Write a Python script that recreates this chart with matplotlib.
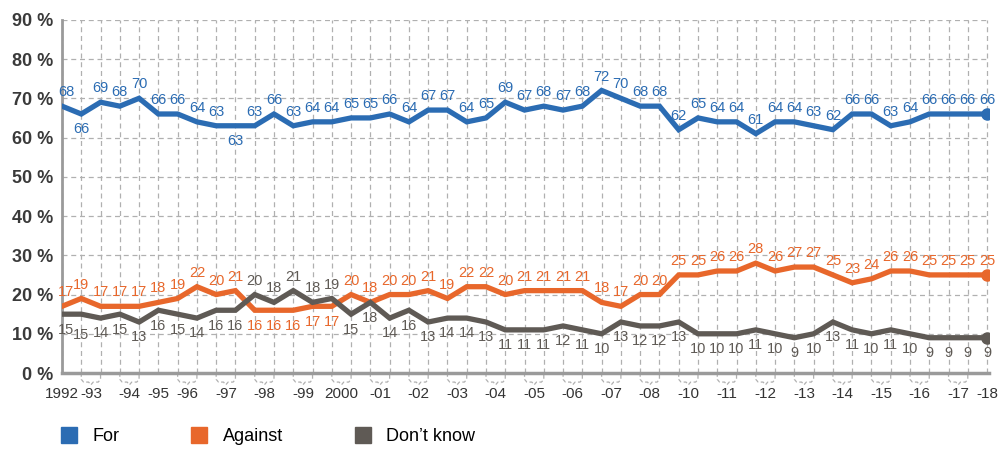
import matplotlib.pyplot as plt
from matplotlib.lines import Line2D
import numpy as np

plt.rcParams['font.family'] = ['Liberation Sans', 'DejaVu Sans']

# survey values, 49 polls 1992-2018
for_vals = [68, 66, 69, 68, 70, 66, 66, 64, 63, 63, 63, 66, 63, 64, 64, 65, 65, 66, 64, 67, 67, 64, 65,
            69, 67, 68, 67, 68, 72, 70, 68, 68, 62, 65, 64, 64, 61, 64, 64, 63, 62, 66, 66, 63, 64, 66,
            66, 66, 66]
against_vals = [17, 19, 17, 17, 17, 18, 19, 22, 20, 21, 16, 16, 16, 17, 17, 20, 18, 20, 20, 21, 19, 22, 22,
                20, 21, 21, 21, 21, 18, 17, 20, 20, 25, 25, 26, 26, 28, 26, 27, 27, 25, 23, 24, 26, 26, 25,
                25, 25, 25]
dontknow_vals = [15, 15, 14, 15, 13, 16, 15, 14, 16, 16, 20, 18, 21, 18, 19, 15, 18, 14, 16, 13, 14, 14, 13,
                 11, 11, 11, 12, 11, 10, 13, 12, 12, 13, 10, 10, 10, 11, 10, 9, 10, 13, 11, 10, 11, 10, 9,
                 9, 9, 9]

# year labels: (first poll index, last poll index, label)
year_groups = [(0, 0, '1992'), (1, 2, '-93'), (3, 4, '-94'), (5, 5, '-95'), (6, 7, '-96'), (8, 9, '-97'),
               (10, 11, '-98'), (12, 13, '-99'), (14, 15, '2000'), (16, 17, '-01'), (18, 19, '-02'),
               (20, 21, '-03'), (22, 23, '-04'), (24, 25, '-05'), (26, 27, '-06'), (28, 29, '-07'),
               (30, 31, '-08'), (32, 33, '-10'), (34, 35, '-11'), (36, 37, '-12'), (38, 39, '-13'),
               (40, 41, '-14'), (42, 43, '-15'), (44, 45, '-16'), (46, 47, '-17'), (48, 48, '-18')]

series_names = ['For', 'Against', 'Don\u2019t know']
colors = ['#2b6cb3', '#e8672b', '#5f5a55']

# which labels sit under the line
for_below = [1, 9]
against_below = [10, 11, 12, 13, 14]
dontknow_above = [10, 11, 12, 13, 14]

x = np.arange(len(for_vals))

fig = plt.figure(figsize=(10, 4.5), dpi=100)
ax = fig.add_axes([0.062, 0.171, 0.927, 0.785])

# grid
for xi in x:
    ax.axvline(xi, color='#b0b0b0', lw=0.9, ls=(0, (4, 3)), zorder=0)
for yv in range(10, 100, 10):
    ax.axhline(yv, color='#b0b0b0', lw=0.9, ls=(0, (4, 3)), zorder=0)

# braces under the axis for years with two polls
for a, b, lab in year_groups:
    if b > a:
        m = (a + b) / 2
        bx = [a, a, a + 0.12, m - 0.12, m, m + 0.12, b - 0.12, b, b]
        by = [0, -1.6, -2.3, -2.3, -3.0, -2.3, -2.3, -1.6, 0]
        ax.plot(bx, by, color='#b0b0b0', lw=0.9, ls=(0, (3, 2)), clip_on=False, zorder=0)

all_vals = [for_vals, against_vals, dontknow_vals]
for k, vals in enumerate(all_vals):
    ax.plot(x, vals, color=colors[k], lw=3.8, solid_joinstyle='miter', zorder=3)
    ax.plot(x[-1], vals[-1], 'o', color=colors[k], ms=8, zorder=4)
    for i, v in enumerate(vals):
        below = ((k == 0 and i in for_below) or (k == 1 and i in against_below)
                 or (k == 2 and i not in dontknow_above))
        dx = 3 if i == 0 else 0
        dy_below = -10 if (k == 2 and i == 1) else -6
        if below:
            ax.annotate(str(v), (i, v), xytext=(dx, dy_below), textcoords='offset points',
                        ha='center', va='top', fontsize=10.5, color=colors[k])
        else:
            ax.annotate(str(v), (i, v), xytext=(dx, 5), textcoords='offset points',
                        ha='center', va='bottom', fontsize=10.5, color=colors[k])

ax.set_xlim(0, 48.1)
ax.set_ylim(0, 90)
ax.set_yticks(range(0, 100, 10))
ax.set_yticklabels(['%d %%' % v for v in range(0, 100, 10)], fontsize=13, fontweight='bold', color='#3a3a3a')
ax.set_xticks([(a + b) / 2 for a, b, lab in year_groups])
ax.set_xticklabels([lab for a, b, lab in year_groups], fontsize=11, color='#333333')
ax.tick_params(axis='both', length=0)
ax.tick_params(axis='x', pad=10)
ax.tick_params(axis='y', pad=6)

for s in ['top', 'right']:
    ax.spines[s].set_visible(False)
ax.spines['left'].set_color('#9a9a9a')
ax.spines['left'].set_linewidth(2)
ax.spines['bottom'].set_color('#9a9a9a')
ax.spines['bottom'].set_linewidth(2.5)
ax.spines['bottom'].set_zorder(5)

handles = [Line2D([], [], marker='s', ls='', ms=11, color=c) for c in colors]
fig.legend(handles, series_names, loc='center left', bbox_to_anchor=(0.055, 0.03), ncol=3,
           frameon=False, fontsize=13, handlelength=0.8, handletextpad=0.9, columnspacing=4.0,
           borderaxespad=0)

fig.savefig('out.png', dpi=100)
